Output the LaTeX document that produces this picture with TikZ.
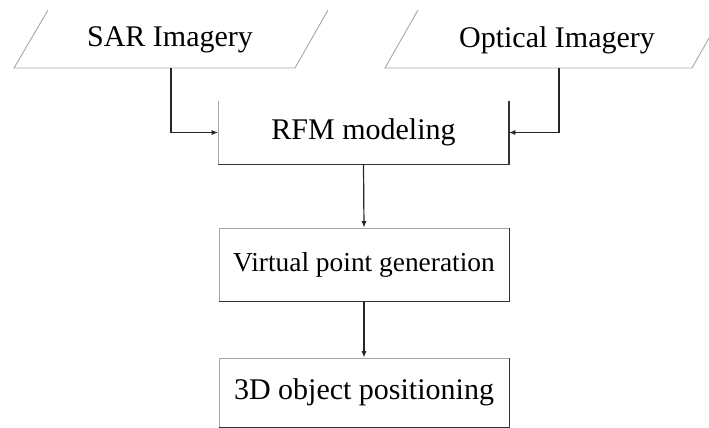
\documentclass[tikz,border=0pt]{standalone}
\usepackage{fontspec}
\setmainfont{Liberation Serif}
\usetikzlibrary{arrows.meta}

\tikzset{
  label/.style={inner sep=0pt, font=\fontsize{15}{17}\selectfont},
  stepbox/.style={draw=gray!70, line width=0.45pt, inner sep=0pt,
    minimum width=145pt, font=\fontsize{15}{17}\selectfont},
  thinedge/.style={gray!70, line width=0.45pt},
  shade/.style={black!80, line width=0.9pt},
  conn/.style={black!85, line width=0.6pt, -{Latex[length=3.2pt,width=2.6pt]}},
}

\begin{document}
\begin{tikzpicture}[x=0.5pt, y=-0.5pt]
  \useasboundingbox (0,0) rectangle (709,428);

  % input imagery (open parallelograms)
  \node[label] (sar) at (170,40) {SAR Imagery};
  \node[label] (opt) at (557,40) {Optical Imagery};
  \draw[thinedge] (48,10) -- (14,68) -- (295,68) -- (328,10);
  \draw[thinedge] (418,10) -- (385,68) -- (692,68) -- (725,10);
  \coordinate (sarfoot) at (171,68);
  \coordinate (optfoot) at (559,68);

  % processing steps
  \node[stepbox, draw=none, minimum height=31.5pt] (rfm) at (363.5,132.5) {RFM modeling};
  \node[stepbox, minimum height=36.5pt, font=\fontsize{13.7}{16}\selectfont] (virt) at (364,264.5) {Virtual point generation};
  \node[stepbox, minimum height=34.5pt] (pos) at (364,392.5) {3D object positioning};

  % box edges
  \draw[thinedge] (rfm.north west) -- (rfm.south west);
  \draw[shade] (rfm.south west) -- (rfm.south east) -- (rfm.north east);
  \draw[shade] (virt.south west) -- (virt.south east) -- (virt.north east);
  \draw[shade] (pos.south west) -- (pos.south east) -- (pos.north east);

  % connectors
  \draw[conn] (sarfoot) |- (rfm.west);
  \draw[conn] (optfoot) |- (rfm.east);
  \draw[conn] (rfm.south) -- (virt.north);
  \draw[conn] (virt.south) -- (pos.north);
\end{tikzpicture}
\end{document}
